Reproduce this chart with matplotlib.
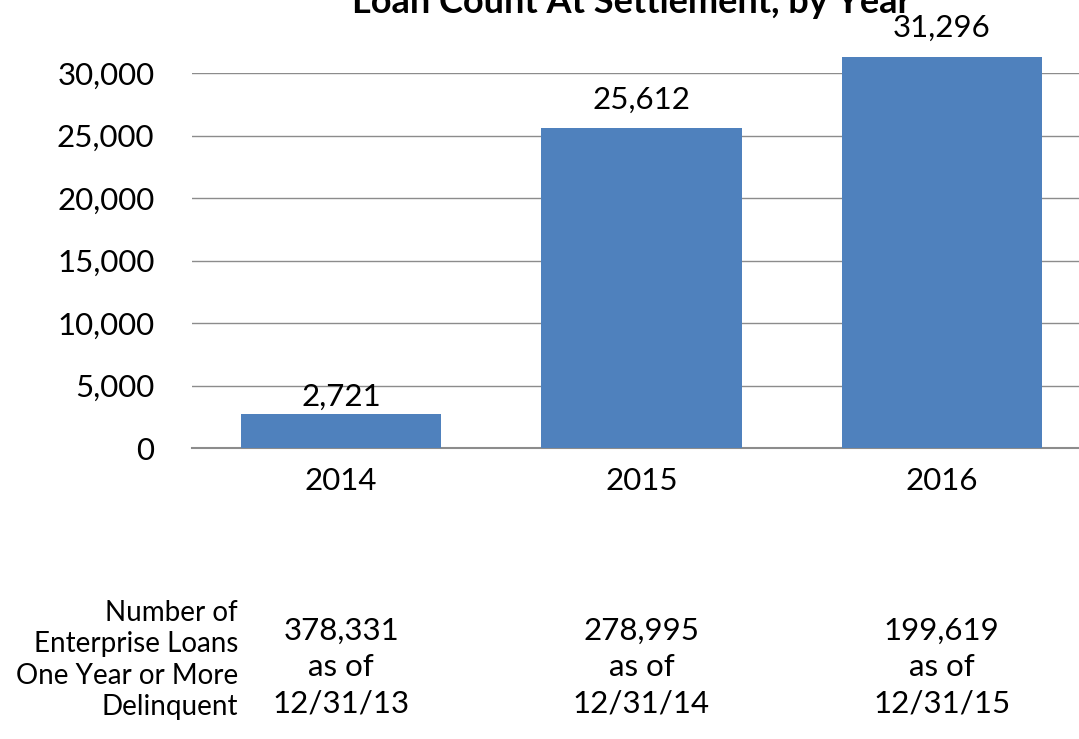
import matplotlib
matplotlib.use("Agg")
import matplotlib.pyplot as plt

years = ["2014", "2015", "2016"]
loan_counts = [2721, 25612, 31296]
yticks = [0, 5000, 10000, 15000, 20000, 25000, 30000]
delinquent_counts = ["378,331", "278,995", "199,619"]
as_of_dates = ["12/31/13", "12/31/14", "12/31/15"]
row_label = "Number of\nEnterprise Loans\nOne Year or More\nDelinquent"
title = "Loan Count At Settlement, by Year"

plt.rcParams["font.family"] = ["Lato", "DejaVu Sans"]

fig = plt.figure(figsize=(10.79, 7.39), dpi=100)
ax = fig.add_axes([192 / 1079, (739 - 448) / 739, 887 / 1079, (448 - 73) / 739])

x = range(len(years))
ax.bar(x, loan_counts, width=0.667, color="#4F81BD", zorder=3, clip_on=False)
# small label sits closer to its bar in the original
label_offsets = [6, 13.5, 14.5]
for xi, v, off in zip(x, loan_counts, label_offsets):
    ax.annotate(f"{v:,}", (xi, v), xytext=(0, off), textcoords="offset points",
                ha="center", va="baseline", fontsize=22.5, color="black",
                annotation_clip=False)

ax.set_xlim(-0.497, 2.457)
ax.set_ylim(0, 30000)
ax.set_yticks(yticks)
ax.set_yticklabels([f"{t:,}" for t in yticks], fontsize=22.5)
ax.set_xticks(list(x))
ax.set_xticklabels(years, fontsize=22.5)
ax.tick_params(axis="both", length=0)
ax.tick_params(axis="x", pad=14)
ax.tick_params(axis="y", pad=27)
ax.yaxis.grid(True, color="#8c8c8c", linewidth=1, zorder=0)
for s in ("top", "right", "left"):
    ax.spines[s].set_visible(False)
ax.spines["bottom"].set_color("#8c8c8c")
ax.spines["bottom"].set_linewidth(1.5)

fig.text(632 / 1079, 1 - 13 / 739, title, ha="center", va="baseline",
         fontsize=26, fontweight="bold")

fig.text(238 / 1079, 1 - 660 / 739, row_label, ha="right", va="center",
         fontsize=20, linespacing=1.25)
for xi, n, d in zip(x, delinquent_counts, as_of_dates):
    px = ax.transData.transform((xi, 0))[0]
    fig.text(px / 1079, 1 - 667 / 739, f"{n}\nas of\n{d}", ha="center", va="center",
             fontsize=22.5, linespacing=1.36)

fig.savefig("out.png", dpi=100)
